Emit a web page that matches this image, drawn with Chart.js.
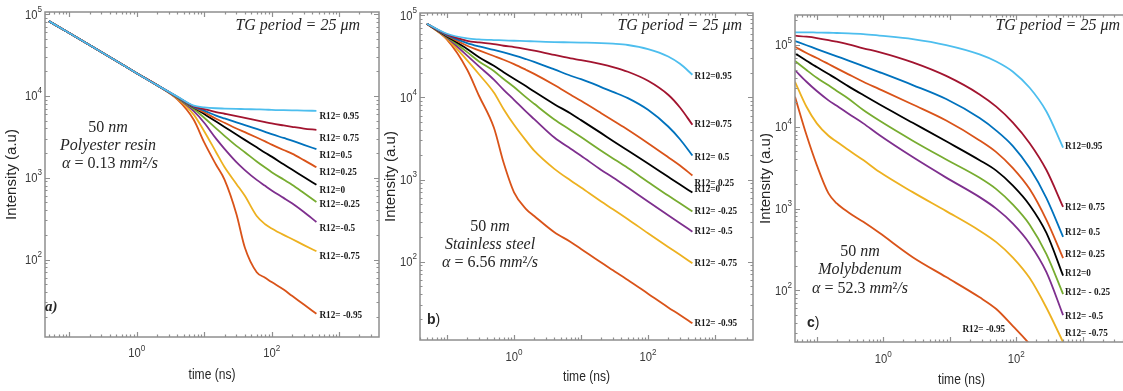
<!DOCTYPE html>
<html>
<head>
<meta charset="utf-8">
<title>TG intensity decay</title>
<script src="https://cdn.jsdelivr.net/npm/chart.js@4.4.1/dist/chart.umd.min.js"></script>
<style>
  html, body { margin:0; padding:0; background:#ffffff; width:1123px; height:391px; overflow:hidden; position:relative; }
  canvas { position:absolute; top:0; }
</style>
</head>
<body>
<canvas id="chartA" width="380" height="391" style="left:0px;width:380px;height:391px"></canvas>
<canvas id="chartB" width="380" height="391" style="left:380px;width:380px;height:391px"></canvas>
<canvas id="chartC" width="380" height="391" style="left:760px;width:380px;height:391px"></canvas>
<script>
// ---------------- data ----------------
const r12Values = [0.95, 0.75, 0.5, 0.25, 0, -0.25, -0.5, -0.75, -0.95];
const lineColors = ['#4DBEEE', '#A2142F', '#0072BD', '#D95319', '#000000', '#77AC30', '#7E2F8E', '#EDB120', '#D95319'];
const yTickExponents = ['2', '3', '4', '5'];
const xTickExponents = ['0', '2'];
const xAxisTitle = 'time (ns)';
const yAxisTitle = 'Intensity (a.u)';

// panel a) Polyester resin
const timeA = [0.05, 0.1, 0.2, 0.5, 1, 2, 4, 7, 10, 15, 20, 30, 40, 60, 80, 100, 150, 200, 300, 460];
const labelsA = ['R12= 0.95', 'R12= 0.75', 'R12=0.5', 'R12=0.25', 'R12=0', 'R12=-0.25', 'R12=-0.5', 'R12=-0.75', 'R12= -0.95'];
const a095 = [82000, 58600, 41800, 26700, 18950, 13540, 9800, 7600, 7250, 7060, 7000, 6930, 6900, 6840, 6810, 6740, 6680, 6650, 6620, 6560];
const a075 = [82000, 58600, 41800, 26700, 18950, 13540, 9750, 7450, 6900, 6350, 6050, 5650, 5380, 5020, 4780, 4600, 4350, 4190, 3990, 3850];
const a050 = [82000, 58600, 41800, 26700, 18950, 13540, 9700, 7350, 6600, 5750, 5300, 4750, 4400, 3950, 3640, 3400, 3060, 2840, 2520, 2230];
const a025 = [82000, 58600, 41800, 26700, 18950, 13540, 9650, 7280, 6300, 5250, 4700, 4000, 3600, 3100, 2780, 2540, 2180, 1970, 1640, 1340];
const a000 = [82000, 58600, 41800, 26700, 18950, 13540, 9640, 7210, 5990, 4850, 4170, 3380, 2900, 2350, 2020, 1810, 1460, 1260, 1020, 820];
const aM025 = [82000, 58600, 41800, 26700, 18950, 13540, 9500, 6900, 5400, 4000, 3250, 2450, 2050, 1580, 1330, 1170, 950, 822, 650, 505];
const aM050 = [82000, 58600, 41800, 26700, 18950, 13540, 9400, 6500, 4700, 3000, 2250, 1550, 1240, 940, 795, 700, 567, 487, 381, 288];
const aM075 = [82000, 58600, 41800, 26700, 18950, 13540, 9250, 5900, 3700, 2050, 1350, 840, 600, 340, 270, 240, 200, 178, 150, 126];
const aM095 = [82000, 58600, 41800, 26700, 18950, 13540, 9050, 5100, 2700, 1440, 946, 360, 140, 70, 60, 53, 43, 36, 28.2, 21.7];

// panel b) Stainless steel
const timeB = [0.05, 0.1, 0.2, 0.3, 0.5, 0.7, 1, 1.5, 2, 4, 7, 10, 20, 30, 50, 100, 200, 300, 460];
const labelsB = ['R12=0.95', 'R12=0.75', 'R12= 0.5', 'R12= 0.25', 'R12=0', 'R12= -0.25', 'R12= -0.5', 'R12= -0.75', 'R12= -0.95'];
const b095 = [79200, 59800, 52500, 51000, 50100, 49700, 49100, 48700, 48200, 47300, 47000, 46700, 46000, 45200, 43600, 38900, 31600, 25700, 18900];
const b075 = [79200, 58700, 49100, 46900, 44800, 42700, 41100, 38900, 37200, 33000, 29900, 28600, 25500, 23500, 20600, 16000, 10800, 7550, 4650];
const b050 = [79200, 57600, 46000, 41900, 38000, 35400, 32600, 29400, 27200, 22000, 18400, 16700, 13400, 11700, 9820, 7080, 4430, 3100, 1960];
const b025 = [79200, 56500, 42700, 37500, 32000, 28800, 25500, 21800, 19400, 14200, 10800, 9110, 6440, 5240, 4040, 2770, 1870, 1480, 1120];
const b000 = [79200, 55500, 38900, 30900, 24300, 20300, 16900, 13800, 11800, 8290, 6380, 5300, 3680, 2960, 2260, 1570, 1080, 869, 695];
const bM025 = [79200, 54500, 35700, 27500, 21000, 16800, 13400, 10100, 8370, 5400, 4000, 3290, 2240, 1810, 1380, 937, 638, 515, 408];
const bM050 = [79200, 53500, 32300, 23900, 16500, 12400, 9370, 6760, 5450, 3250, 2370, 1950, 1310, 1060, 799, 540, 367, 294, 232];
const bM075 = [79200, 52000, 28300, 19200, 11500, 7200, 4650, 3000, 2250, 1350, 973, 799, 540, 435, 329, 222, 151, 121, 95.5];
const bM095 = [79200, 50600, 21800, 10500, 4300, 1600, 700, 440, 360, 228, 174, 143, 97.3, 78.5, 59.8, 40.7, 27.7, 22.4, 17.7];

// panel c) Molybdenum
const timeC = [0.047, 0.07, 0.1, 0.15, 0.2, 0.3, 0.5, 0.87, 2.77, 8.83, 28.1, 50, 89, 159, 284, 506];
const labelsC = ['R12=0.95', 'R12= 0.75', 'R12= 0.5', 'R12= 0.25', 'R12=0', 'R12= - 0.25', 'R12= -0.5', 'R12= -0.75', 'R12= -0.95'];
const c095 = [143000, 143000, 142200, 141400, 140300, 139100, 136300, 130700, 118400, 100000, 76950, 62900, 47160, 29990, 15380, 5570];
const c075 = [130000, 126400, 121800, 115100, 109700, 102000, 91100, 82100, 61380, 41880, 24890, 17620, 11250, 6295, 2958, 1045];
const c050 = [111900, 99400, 89300, 79140, 72720, 64600, 55340, 46720, 32390, 21830, 12780, 8985, 5806, 3123, 1341, 450];
const c025 = [95330, 79820, 69330, 58540, 51840, 43800, 35540, 28930, 18700, 11910, 6815, 4900, 3123, 1728, 725, 247];
const c000 = [79140, 64230, 53790, 44160, 38360, 31220, 24430, 18840, 11190, 6637, 3899, 2910, 1907, 1100, 504, 151];
const cM025 = [63700, 49430, 39800, 32110, 27350, 22010, 16010, 11910, 6761, 3981, 2376, 1728, 1116, 635, 277, 89.6];
const cM050 = [49430, 35540, 27350, 21040, 18070, 14430, 11010, 7914, 4256, 2389, 1379, 997, 654, 372, 167, 49.6];
const cM075 = [35540, 17570, 11010, 7759, 6552, 5184, 3912, 2813, 1587, 929, 536, 388, 251, 141, 61.2, 23.2];
const cM095 = [23290, 7914, 3398, 1530, 1154, 896, 687, 504, 254, 145, 82, 59, 36.4, 21.9, 12.1, 6.9];

// ---------------- styling helpers ----------------
const SANS = '"Liberation Sans", Arial, sans-serif';
const SERIF = '"Liberation Serif", "DejaVu Serif", serif';
const TEXT_COLOR = '#262626';
const TICK_COLOR = '#3a3a3a';
const FRAME_COLOR = '#8f8f8f';

function fontFor(style, size, family) {
  const it = style.includes('i') ? 'italic ' : '';
  const bd = style.includes('b') ? 'bold ' : '';
  return it + bd + size + 'px ' + (family || SERIF);
}

function drawScaledText(ctx, txt, x, y, sx, align) {
  ctx.save();
  ctx.translate(x, y);
  ctx.scale(sx, 1);
  ctx.textAlign = align || 'left';
  ctx.fillText(txt, 0, 0);
  ctx.restore();
}

const framePlugin = {
  id: 'frameTicks',
  afterDatasetsDraw(chart) {
    const { ctx, chartArea: a, scales } = chart;
    ctx.save();
    ctx.strokeStyle = FRAME_COLOR;
    ctx.lineWidth = 1.2;
    const drawAxisTicks = (scale, horiz) => {
      const lo = Math.floor(Math.log10(scale.min)), hi = Math.ceil(Math.log10(scale.max));
      ctx.beginPath();
      for (let e = lo; e <= hi; e++) {
        for (let s = 1; s <= 9; s++) {
          const v = s * Math.pow(10, e);
          if (v < scale.min || v > scale.max) continue;
          const p = Math.round(scale.getPixelForValue(v)) + 0.5;
          const len = s === 1 ? 5 : 2.5;
          if (horiz) {
            ctx.moveTo(p, a.bottom); ctx.lineTo(p, a.bottom - len);
            ctx.moveTo(p, a.top); ctx.lineTo(p, a.top + len);
          } else {
            ctx.moveTo(a.left, p); ctx.lineTo(a.left + len, p);
            ctx.moveTo(a.right, p); ctx.lineTo(a.right - len, p);
          }
        }
      }
      ctx.stroke();
    };
    drawAxisTicks(scales.x, true);
    drawAxisTicks(scales.y, false);
    ctx.lineWidth = 1.5;
    ctx.strokeRect(a.left, a.top, a.right - a.left, a.bottom - a.top);
    ctx.restore();
  }
};

function makeTextPlugin(spec) {
  return {
    id: 'notes',
    afterDraw(chart) {
      const { ctx, chartArea: a, scales } = chart;
      ctx.save();
      ctx.textBaseline = 'middle';
      // ---- tick labels (10 with superscript exponent) ----
      const SX = 0.9, BASE = '12.5px ' + SANS, EXP = '9px ' + SANS;
      ctx.fillStyle = TICK_COLOR;
      yTickExponents.forEach(ex => {
        const v = Math.pow(10, +ex);
        if (v < scales.y.min || v > scales.y.max * 1.001) return;
        const p = scales.y.getPixelForValue(v);
        ctx.font = EXP;
        const ew = ctx.measureText(ex).width * SX;
        const right = a.left - 3;
        drawScaledText(ctx, ex, right - ew, p - 5, SX, 'left');
        ctx.font = BASE;
        drawScaledText(ctx, '10', right - ew, p + 1, SX, 'right');
      });
      xTickExponents.forEach(ex => {
        const v = Math.pow(10, +ex);
        const p = scales.x.getPixelForValue(v);
        ctx.font = EXP;
        const ew = ctx.measureText(ex).width * SX;
        ctx.font = BASE;
        const bw = ctx.measureText('10').width * SX;
        const start = p - (bw + ew) / 2;
        drawScaledText(ctx, '10', start, a.bottom + spec.xTickDy, SX, 'left');
        ctx.font = EXP;
        drawScaledText(ctx, ex, start + bw, a.bottom + spec.xTickDy - 5, SX, 'left');
      });
      // ---- axis titles ----
      ctx.fillStyle = TEXT_COLOR;
      ctx.font = '14px ' + SANS;
      drawScaledText(ctx, xAxisTitle, (a.left + a.right) / 2, spec.xTitleY, 0.86, 'center');
      ctx.save();
      ctx.translate(spec.yTitleX, (a.top + a.bottom) / 2);
      ctx.rotate(-Math.PI / 2);
      ctx.font = '15px ' + SANS;
      ctx.textAlign = 'center';
      ctx.fillText(yAxisTitle, 0, 0);
      ctx.restore();
      // ---- free annotations ----
      spec.notes.forEach(n => {
        let total = 0;
        n.runs.forEach(r => { ctx.font = fontFor(r[1], n.size, n.family); total += ctx.measureText(r[0]).width; });
        let x = a.left + n.x;
        if (n.align === 'center') x -= total / 2;
        else if (n.align === 'right') x -= total;
        const y = a.top + n.y;
        ctx.fillStyle = n.color || TEXT_COLOR;
        n.runs.forEach(r => {
          ctx.font = fontFor(r[1], n.size, n.family);
          ctx.textAlign = 'left';
          ctx.fillText(r[0], x, y);
          x += ctx.measureText(r[0]).width;
        });
      });
      // ---- curve end labels ----
      ctx.font = 'bold 11px ' + SERIF;
      ctx.fillStyle = '#1a1a1a';
      spec.endLabels.texts.forEach((txt, i) => {
        const meta = chart.getDatasetMeta(i);
        const last = meta.data[meta.data.length - 1];
        let x = last.x + spec.endLabels.dx;
        let y = last.y + spec.endLabels.dy[i];
        const fx = spec.endLabels.fixed && spec.endLabels.fixed[i];
        if (fx) {
          if (fx.t != null) x = scales.x.getPixelForValue(fx.t);
          y = scales.y.getPixelForValue(fx.v);
        }
        drawScaledText(ctx, txt, x, y, 0.84, 'left');
      });
      ctx.restore();
    }
  };
}

function makeChart(canvasId, time, series, box, spec) {
  const W = 380, H = 391;
  const datasets = series.map((vals, i) => ({
    label: 'R12=' + r12Values[i],
    data: time.map((t, j) => ({ x: t, y: vals[j] })),
    borderColor: lineColors[i],
    backgroundColor: lineColors[i],
    borderWidth: 1.8,
    pointRadius: 0,
    fill: false,
    cubicInterpolationMode: 'monotone'
  }));
  return new Chart(document.getElementById(canvasId), {
    type: 'line',
    data: { datasets },
    options: {
      responsive: false,
      animation: false,
      devicePixelRatio: 1,
      layout: { padding: { left: 0, top: box.top, right: W - box.right, bottom: 0 } },
      plugins: { legend: { display: false }, tooltip: { enabled: false } },
      scales: {
        x: {
          type: 'logarithmic', min: box.xmin, max: box.xmax,
          grid: { display: false }, border: { display: false },
          ticks: { display: false },
          afterFit: s => { s.height = H - box.bottom; }
        },
        y: {
          type: 'logarithmic', min: box.ymin, max: box.ymax,
          grid: { display: false }, border: { display: false },
          ticks: { display: false },
          afterFit: s => { s.width = box.left; }
        }
      }
    },
    plugins: [framePlugin, makeTextPlugin(spec)]
  });
}

const tg = [['TG period = 25 ', 'i'], ['μm', 'i']];

makeChart('chartA', timeA, [a095, a075, a050, a025, a000, aM025, aM050, aM075, aM095],
  { left: 45, right: 379, top: 12, bottom: 337, xmin: 0.0438, xmax: 3890, ymin: 11.3, ymax: 106000 },
  {
    xTickDy: 17, xTitleY: 375, yTitleX: 12,
    notes: [
      { x: 315, y: 14, align: 'right', size: 16, runs: tg },
      { x: 63, y: 116, align: 'center', size: 16, runs: [['50 ', 'n'], ['nm', 'i']] },
      { x: 63, y: 134, align: 'center', size: 16, runs: [['Polyester resin', 'i']] },
      { x: 65, y: 152, align: 'center', size: 16, runs: [['α', 'i'], [' = 0.13 ', 'n'], ['mm', 'i'], ['²', 'n'], ['/s', 'i']] },
      { x: 0, y: 295, align: 'left', size: 15, runs: [['a)', 'bi']] }
    ],
    endLabels: { texts: labelsA, dx: 3, dy: [5, 8, 6, 5, 5, 2, 6, 5, 1] }
  });

makeChart('chartB', timeB, [b095, b075, b050, b025, b000, bM025, bM050, bM075, bM095],
  { left: 40, right: 373, top: 13, bottom: 340, xmin: 0.0395, xmax: 3690, ymin: 11.1, ymax: 107000 },
  {
    xTickDy: 18, xTitleY: 377, yTitleX: 11,
    notes: [
      { x: 322, y: 13, align: 'right', size: 16, runs: tg },
      { x: 70, y: 214, align: 'center', size: 16, runs: [['50 ', 'n'], ['nm', 'i']] },
      { x: 70, y: 232, align: 'center', size: 16, runs: [['Stainless steel', 'i']] },
      { x: 70, y: 250, align: 'center', size: 16, runs: [['α', 'i'], [' = 6.56 ', 'n'], ['mm', 'i'], ['²', 'n'], ['/s', 'i']] },
      { x: 7, y: 307, align: 'left', size: 14, family: SANS, runs: [['b', 'b'], [')', 'n']] }
    ],
    endLabels: { texts: labelsB, dx: 2, dy: [1, -1, 2, 8, -3, 0, 0, 0, 0] }
  });

makeChart('chartC', timeC, [c095, c075, c050, c025, c000, cM025, cM050, cM075, cM095],
  { left: 35, right: 368, top: 15, bottom: 342, xmin: 0.047, xmax: 4790, ymin: 23.3, ymax: 233000 },
  {
    xTickDy: 18, xTitleY: 380, yTitleX: 6,
    notes: [
      { x: 325, y: 11, align: 'right', size: 16, runs: tg },
      { x: 65, y: 237, align: 'center', size: 16, runs: [['50 ', 'n'], ['nm', 'i']] },
      { x: 65, y: 255, align: 'center', size: 16, runs: [['Molybdenum', 'i']] },
      { x: 65, y: 274, align: 'center', size: 16, runs: [['α', 'i'], [' = 52.3 ', 'n'], ['mm', 'i'], ['²', 'n'], ['/s', 'i']] },
      { x: 12, y: 308, align: 'left', size: 14, family: SANS, runs: [['c', 'b'], [')', 'n']] }
    ],
    endLabels: {
      texts: labelsC, dx: 2, dy: [-1, 0, -5, -4, -2, -2, 1, 0, 0],
      fixed: { 7: { t: null, v: 30 }, 8: { t: 15.5, v: 33 } }
    }
  });
</script>
</body>
</html>
